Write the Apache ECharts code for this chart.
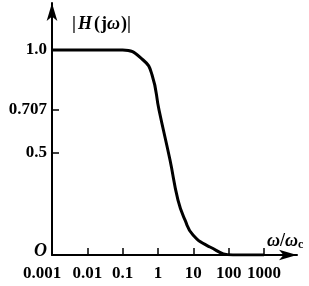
<!DOCTYPE html>
<html>
<head>
<meta charset="utf-8">
<script src="https://cdn.jsdelivr.net/npm/echarts@6/dist/echarts.min.js"></script>
<style>html,body{margin:0;padding:0;background:#fff}#c{width:309px;height:286px}</style>
</head>
<body>
<div id="c"></div>
<script>
var omega = [0.001, 0.01, 0.1, 0.38, 0.68, 1.07, 2.19, 3.68, 5.8, 9.8, 29.6, 132, 1000];
var magnitude = [1, 1, 1, 0.951, 0.878, 0.707, 0.463, 0.268, 0.171, 0.098, 0.039, 0, 0];
var xTicks = [0.001, 0.01, 0.1, 1, 10, 100, 1000];
var xTickLabels = ['0.001', '0.01', '0.1', '1', '10', '100', '1000'];
var yTicks = [0, 0.5, 0.707, 1.0];
var yTickLabels = ['O', '0.5', '0.707', '1.0'];

var serif = '"Liberation Serif", "DejaVu Serif", serif';
var data = omega.map(function (w, i) { return [w, magnitude[i]]; });

function nearestIndex(arr, v, useLog) {
  var best = 0, bd = Infinity;
  for (var i = 0; i < arr.length; i++) {
    var d = useLog ? Math.abs(Math.log10(arr[i]) - Math.log10(v)) : Math.abs(arr[i] - v);
    if (d < bd) { bd = d; best = i; }
  }
  return best;
}

var chart = echarts.init(document.getElementById('c'), null, {renderer: 'canvas'});
chart.setOption({
  animation: false,
  backgroundColor: '#fff',
  grid: {left: 52, right: 12, top: 3, bottom: 31},
  title: [
    {
      left: 66, top: 10,
      text: '{a||}{h|H}{a|(}{j|j}{w|ω}{a|)|}',
      textStyle: {
        rich: {
          a: {fontFamily: serif, fontSize: 18, color: '#000', padding: [0, 1, 0, 1]},
          h: {fontFamily: serif, fontSize: 18, fontStyle: 'italic', color: '#000', padding: [0, 1, 0, 1]},
          j: {fontFamily: serif, fontSize: 18, fontWeight: 'bold', color: '#000'},
          w: {fontFamily: serif, fontSize: 18, fontStyle: 'italic', color: '#000'}
        }
      }
    },
    {
      left: 262, top: 226,
      text: '{w|ω}{a|/}{w|ω}{s|c}',
      textStyle: {
        rich: {
          a: {fontFamily: serif, fontSize: 18, color: '#000'},
          w: {fontFamily: serif, fontSize: 18, fontStyle: 'italic', color: '#000'},
          s: {fontFamily: serif, fontSize: 12, fontWeight: 'bold', color: '#000', padding: [8, 0, 0, 0]}
        }
      }
    }
  ],
  xAxis: {
    type: 'log',
    logBase: 10,
    min: 0.001,
    max: 8600,
    axisLine: {
      show: true,
      symbol: ['none', 'arrow'],
      symbolSize: [8, 18],
      lineStyle: {color: '#000', width: 2}
    },
    axisTick: {
      show: true,
      inside: true,
      length: 7,
      customValues: xTicks.slice(1),
      lineStyle: {color: '#000', width: 1.5}
    },
    axisLabel: {
      show: true,
      customValues: xTicks,
      margin: 10,
      fontFamily: serif,
      fontWeight: 'bold',
      fontSize: 17,
      color: '#000',
      formatter: function (v) {
        var i = nearestIndex(xTicks, v, true);
        if (i === 0) return '{l|' + xTickLabels[i] + '}';
        return xTickLabels[i];
      },
      rich: {
        l: {fontFamily: serif, fontWeight: 'bold', fontSize: 17, color: '#000', padding: [0, 20, 0, 0]}
      }
    },
    splitLine: {show: false},
    minorTick: {show: false}
  },
  yAxis: {
    type: 'value',
    min: 0,
    max: 1.229,
    axisLine: {
      show: true,
      symbol: ['none', 'arrow'],
      symbolSize: [8, 18],
      lineStyle: {color: '#000', width: 2}
    },
    axisTick: {
      show: true,
      inside: true,
      length: 7,
      customValues: yTicks.slice(1),
      lineStyle: {color: '#000', width: 1.5}
    },
    axisLabel: {
      show: true,
      customValues: yTicks,
      margin: 5,
      fontFamily: serif,
      fontWeight: 'bold',
      fontSize: 17,
      color: '#000',
      formatter: function (v) {
        var i = nearestIndex(yTicks, v, false);
        if (i === 0) return '{o|' + yTickLabels[i] + '}';
        return yTickLabels[i];
      },
      rich: {
        o: {fontFamily: serif, fontStyle: 'italic', fontSize: 18, color: '#000', padding: [0, 0, 8, 0]}
      }
    },
    splitLine: {show: false}
  },
  series: [{
    type: 'line',
    data: data,
    smooth: 0.5,
    showSymbol: false,
    symbol: 'none',
    lineStyle: {color: '#000', width: 3},
    z: 1
  }]
});
</script>
</body>
</html>
